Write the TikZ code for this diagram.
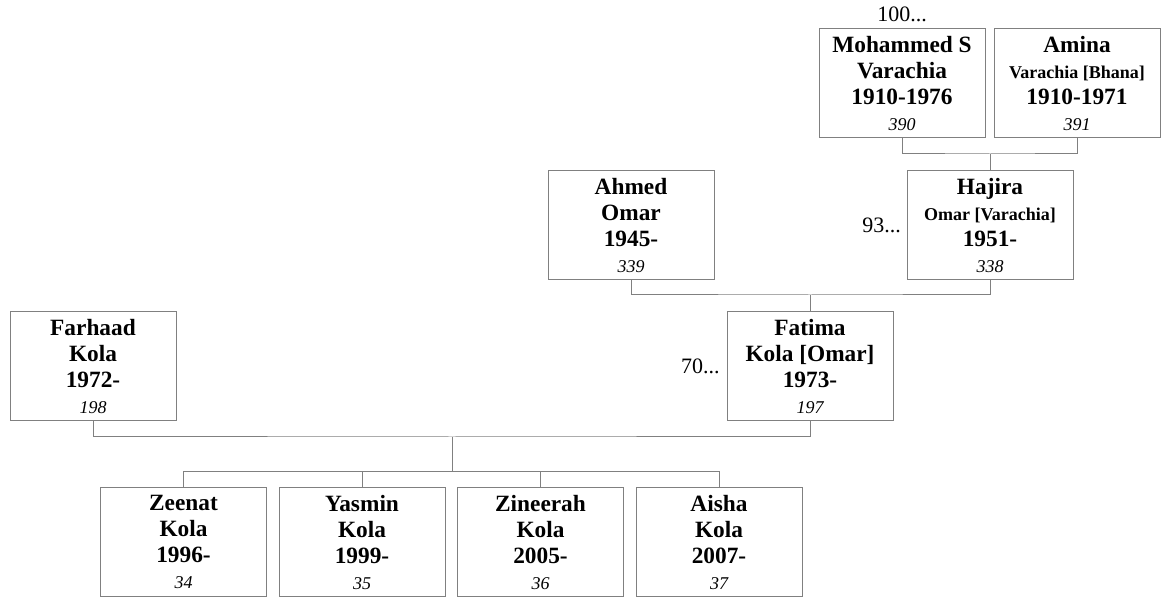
\documentclass[tikz,border=0pt]{standalone}
\usepackage{fontspec}
\setmainfont{Liberation Serif}
\newcommand{\pname}[4]{#1\\#2\\#3\\{\fontsize{13.5}{19.5}\selectfont\mdseries\itshape #4}}
\newcommand{\psmall}[1]{{\fontsize{13.5}{19.5}\selectfont #1}}
\begin{document}
\begin{tikzpicture}[x=0.75pt,y=-0.75pt,
				person/.style={draw=black!50,line width=0.75pt,fill=white,align=center,
					minimum width=124.5pt,minimum height=82pt,inner sep=0pt,
					font=\fontsize{17.5}{19.5}\selectfont\bfseries},
				link/.style={draw=black!50,line width=0.75pt},
				more/.style={font=\fontsize{16.5}{19}\selectfont,inner sep=0pt}]
\useasboundingbox (0,0) rectangle (1168,598);
\node[person] (moh) at (902,83) {\pname{Mohammed S}{Varachia}{1910-1976}{390}};
\node[person] (ami) at (1077,83) {\pname{Amina}{\psmall{Varachia [Bhana]}}{1910-1971}{391}};
\node[person] (haj) at (990,225) {\pname{Hajira}{\psmall{Omar [Varachia]}}{1951-}{338}};
\node[person] (ahm) at (631,225) {\pname{Ahmed}{Omar}{1945-}{339}};
\node[person] (fat) at (810,366) {\pname{Fatima}{Kola [Omar]}{1973-}{197}};
\node[person] (far) at (93,366) {\pname{Farhaad}{Kola}{1972-}{198}};
\node[person] (zee) at (183.5,542) {\pname{Zeenat}{Kola}{1996-}{34}};
\node[person] (yas) at (362,542) {\pname{Yasmin}{Kola}{1999-}{35}};
\node[person] (zin) at (540.5,542) {\pname{Zineerah}{Kola}{2005-}{36}};
\node[person] (ais) at (719,542) {\pname{Aisha}{Kola}{2007-}{37}};
\node[more,anchor=south] (m100) at (moh.north) [yshift=4pt] {100...};
\node[more,anchor=east] (m93) at (haj.west) [xshift=-4pt] {93...};
\node[more,anchor=east] (m70) at (fat.west) [xshift=-5pt] {70...};
\coordinate (j1) at (990,154);
\coordinate (j2) at (810,295);
\coordinate (j3) at (452,437);
\coordinate (k) at (452,472);
\draw[link] (moh.south) |- (j1) -| (ami.south);
\draw[link] (j1) -- (haj.north);
\draw[link] (ahm.south) |- (j2) -| (haj.south);
\draw[link] (j2) -- (fat.north);
\draw[link] (far.south) |- (j3) -| (fat.south);
\draw[link] (j3) -- (k);
\foreach \c in {zee,yas,zin,ais}
	\draw[link] (k) -| (\c.north);
\end{tikzpicture}
\end{document}
